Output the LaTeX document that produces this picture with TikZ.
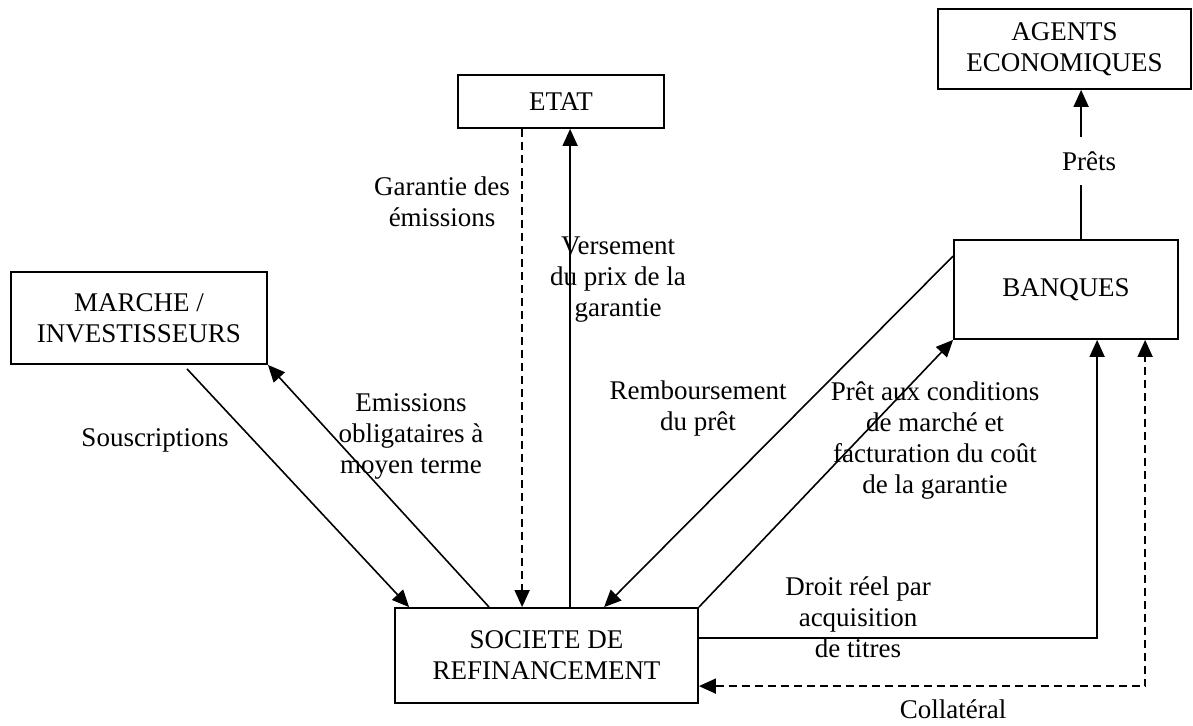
\documentclass[tikz,border=0pt]{standalone}
\usepackage{fontspec}
\setmainfont{Liberation Serif}
\usetikzlibrary{arrows.meta,calc}
\begin{document}
\begin{tikzpicture}[x=1pt,y=-1pt,
  every node/.style={font=\fontsize{27}{31}\selectfont, inner sep=0pt},
  box/.style={draw, line width=1.8pt, align=center},
  lbl/.style={align=center},
  conn/.style={line width=1.6pt},
  tip/.style={-{Triangle[length=17pt,width=15pt]}},
  dtip/.style={{Triangle[length=17pt,width=15pt]}-{Triangle[length=17pt,width=15pt]}},
  dsh/.style={dash pattern=on 8pt off 5pt}]
\useasboundingbox (0,0) rectangle (1193,725);
% boxes
\node[box, minimum width=206pt, minimum height=53pt] (etat) at (561,101.5) {ETAT};
\node[box, minimum width=253pt, minimum height=80pt] (agents) at (1064.5,49) {AGENTS\\ECONOMIQUES};
\node[box, minimum width=256pt, minimum height=92pt] (marche) at (139,318) {MARCHE /\\INVESTISSEURS};
\node[box, minimum width=224pt, minimum height=99pt] (banques) at (1066,289.5) {BANQUES};
\node[box, minimum width=303pt, minimum height=95pt] (soc) at (546.5,655.5) {SOCIETE DE\\REFINANCEMENT};
% connectors
\draw[conn,tip] ($(marche.south)+(48,4)$) -- ($(soc.north west)+(15,0)$);
\draw[conn,tip] ($(soc.north west)+(95,0)$) -- (marche.south east);
\draw[conn,tip,dsh] ($(etat.south west)+(65,0)$) -- ($(soc.north west)+(128,0)$);
\draw[conn,tip] ($(soc.north west)+(176,0)$) -- ($(etat.south west)+(113,0)$);
\draw[conn,tip] ($(banques.north west)+(0,17)$) -- ($(soc.north west)+(210,0)$);
\draw[conn,tip] (soc.north east) -- (banques.south west);
\draw[conn,tip] ($(soc.north east)+(0,31)$) -| ($(banques.south west)+(144,0)$);
\draw[conn,dtip,dsh] ($(soc.north east)+(0,79)$) -| ($(banques.south west)+(192,0)$);
\draw[conn,tip] ($(banques.north west)+(128,0)$) -- ($(agents.south west)+(144,0)$);
% labels
\node[lbl, fill=white, minimum height=48pt, inner xsep=3pt] (prets) at (1089,161) {Prêts};
\node[lbl] (souscr) at (155,440) {Souscriptions};
\node[lbl] (emiss) at (411,436) {Emissions\\obligataires à\\moyen terme};
\node[lbl] (garant) at (442,202) {Garantie des\\émissions};
\node[lbl] (verse) at (618,280) {Versement\\du prix de la\\garantie};
\node[lbl] (rembo) at (698,408.5) {Remboursement\\du prêt};
\node[lbl] (pretc) at (935,440.5) {Prêt aux conditions\\de marché et\\facturation du coût\\de la garantie};
\node[lbl] (droit) at (858,617) {Droit réel par\\acquisition\\de titres};
\node[lbl] (collat) at (953,709) {Collatéral};
\end{tikzpicture}
\end{document}
